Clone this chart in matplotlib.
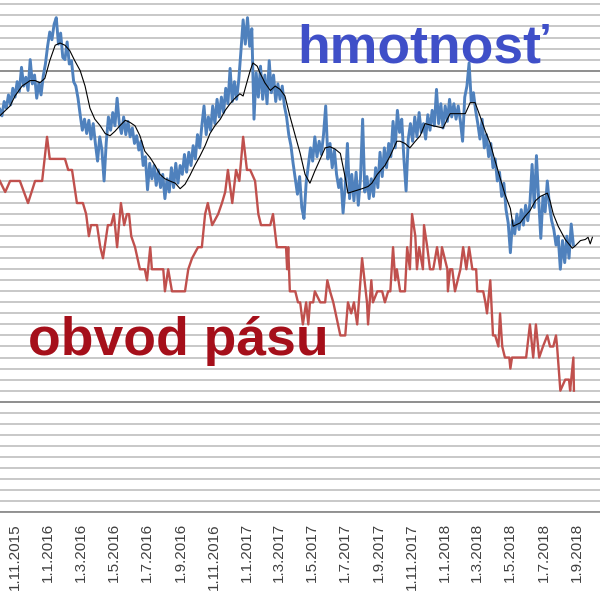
import pandas as pd
import matplotlib.pyplot as plt

# Začiatok merania (deň 0)
start = pd.Timestamp("2015-11-01")

# Hmotnosť - hodnoty každé 4 dni, od dňa -28
weight_first_day = -28
weight_step_days = 4
weight = [
    96.5, 95.9, 97.2, 96.6, 97.8, 96.9, 98.4, 97.6, 99.0, 98.1,
    100.3, 98.6, 99.4, 98.2, 101.0, 98.8, 99.6, 97.5, 98.9, 97.8,
    99.5, 100.6, 102.2, 103.5, 102.8, 104.2, 104.8, 102.4, 103.4, 101.2,
    101.0, 102.6, 100.6, 100.9, 99.0, 98.6, 97.5, 96.0, 94.6, 95.6,
    94.3, 95.5, 93.8, 95.2, 93.4, 91.8, 94.0, 92.8, 90.0, 93.5,
    95.8, 94.6, 96.2, 95.0, 97.5, 95.2, 94.3, 95.8, 94.2, 95.4,
    94.0, 94.8, 93.4, 94.1, 92.8, 93.6, 91.4, 92.2, 89.2, 91.6,
    90.2, 91.4, 89.6, 91.0, 89.4, 90.6, 88.4, 90.2, 89.0, 91.2,
    89.4, 91.6, 89.8, 91.4, 90.6, 92.4, 90.8, 92.6, 91.4, 93.2,
    92.0, 94.2, 93.0, 95.0, 96.8, 94.2, 95.8, 94.6, 96.8, 95.2,
    97.4, 95.8, 97.6, 96.2, 98.4, 97.0, 100.2, 97.2, 99.0, 97.4,
    99.2, 101.8, 104.6, 102.4, 104.8, 102.2, 103.8, 95.6, 99.8, 97.6,
    100.4, 97.4, 99.6, 97.0, 100.9, 98.0, 99.6, 97.2, 98.8, 97.4,
    98.6, 96.8, 95.8, 94.2, 93.2, 91.6, 90.2, 88.8, 90.4, 87.6,
    86.6, 89.8, 91.4, 93.0, 91.8, 94.0, 92.2, 93.6, 92.4, 94.2,
    96.8, 92.0, 93.4, 91.2, 92.8, 90.6, 89.4, 90.2, 87.1, 89.6,
    93.4, 88.4, 90.6, 88.2, 90.8, 87.8, 90.2, 95.6, 89.0, 90.4,
    88.4, 90.2, 88.6, 91.2, 89.4, 92.6, 90.4, 93.0, 91.2, 93.4,
    92.2, 95.4, 93.0, 96.4, 94.4, 95.6, 92.0, 89.1, 93.8, 95.2,
    93.6, 95.8, 94.0, 96.2, 94.4, 95.2, 93.8, 96.0, 94.6, 96.4,
    95.0, 98.3, 95.2, 97.0, 94.8, 96.8, 95.4, 97.4, 95.8, 97.0,
    95.6, 96.8, 95.4, 93.6, 97.6, 98.6, 100.7, 97.2, 98.0, 96.4,
    95.2, 93.8, 95.6, 93.0, 94.2, 92.2, 93.4, 91.2, 92.0, 90.0,
    90.8, 88.6, 89.8, 87.4, 86.2, 83.5, 86.4, 85.2, 87.0, 85.6,
    87.4, 86.0, 87.8, 86.4, 88.0, 91.5, 87.6, 92.3, 88.4, 84.8,
    88.6, 87.2, 90.0, 87.8, 86.4, 85.6, 84.2, 85.0, 82.0, 84.6,
    82.6, 85.0, 83.0, 86.1, 84.2,
]

# Kĺzavý priemer hmotnosti (deň, hodnota)
trend_days = [
    -28, -9, 0, 13, 28, 37, 46, 55, 64, 74, 83, 92, 101, 110, 120, 129,
    138, 147, 157, 166, 175, 184, 193, 203, 212, 221, 230, 239, 249, 258,
    267, 276, 285, 295, 304, 313, 322, 331, 341, 350, 359, 368, 378, 387,
    396, 405, 414, 420, 425, 433, 438, 446, 451, 460, 470, 479, 488, 497,
    506, 516, 525, 534, 543, 552, 562, 571, 580, 589, 599, 608, 613, 626,
    639, 650, 657, 667, 681, 691, 703, 709, 718, 727, 737, 746, 755, 770,
    788, 792, 801, 820, 829, 838, 847, 856, 866, 875, 884, 893, 902, 912,
    917, 930, 939, 948, 958, 967, 980, 985, 991, 1000, 1013, 1026, 1031,
    1041, 1050, 1055, 1059, 1063,
]
trend = [
    95.9, 96.8, 97.7, 98.6, 99.1, 99.1, 98.9, 99.3, 100.9, 102.3, 102.5,
    102.3, 101.8, 100.9, 100.0, 98.6, 96.6, 95.6, 95.0, 94.3, 94.1, 94.5,
    95.0, 95.5, 95.3, 95.0, 94.1, 92.7, 92.1, 91.4, 90.6, 90.2, 90.0, 89.8,
    89.3, 89.7, 90.5, 91.4, 92.3, 93.2, 94.3, 95.0, 95.6, 96.4, 97.0, 97.5,
    97.9, 97.7, 98.6, 100.0, 100.7, 100.4, 99.8, 98.9, 98.2, 98.6, 98.3,
    97.7, 95.9, 94.1, 92.5, 90.6, 89.8, 90.9, 92.0, 93.0, 93.1, 92.9, 92.5,
    90.3, 88.9, 89.1, 89.3, 89.5, 89.8, 90.6, 91.4, 92.3, 93.6, 93.6, 93.4,
    93.0, 93.6, 94.1, 95.2, 95.0, 94.8, 95.2, 96.1, 96.1, 96.1, 97.1, 97.1,
    95.9, 94.5, 93.4, 91.8, 90.3, 88.8, 87.5, 85.9, 86.2, 86.8, 87.3, 88.2,
    88.6, 88.9, 88.2, 87.0, 85.9, 84.7, 83.9, 84.1, 84.6, 84.7, 84.9, 84.3,
    84.9,
]

# Obvod pásu (deň, hodnota)
waist_days = [
    -28, -18, -9, 9, 24, 37, 50, 59, 64, 92, 98, 105, 114, 125, 131, 136,
    140, 151, 157, 162, 171, 177, 182, 188, 195, 201, 206, 210, 214, 221,
    230, 239, 243, 249, 252, 273, 276, 282, 289, 313, 319, 326, 337, 344,
    350, 355, 363, 374, 381, 387, 392, 400, 407, 413, 420, 427, 433, 442,
    448, 453, 460, 470, 475, 482, 495, 499, 501, 503, 506, 516, 521, 525,
    530, 536, 540, 543, 549, 552, 562, 571, 575, 580, 586, 599, 608, 613,
    619, 624, 630, 639, 648, 650, 656, 659, 667, 676, 681, 687, 691, 696,
    700, 703, 709, 718, 722, 727, 731, 737, 740, 744, 751, 753, 759, 764,
    770, 777, 783, 786, 796, 797, 801, 805, 810, 820, 825, 831, 836, 842,
    849, 851, 862, 866, 869, 875, 880, 884, 890, 893, 897, 902, 910, 912,
    915, 930, 941, 948, 954, 959, 965, 972, 980, 985, 991, 996, 998, 1004,
    1013, 1020, 1022, 1028, 1029,
]
waist = [
    90, 89, 90, 90, 88, 90, 90, 94, 92, 92, 91, 91, 88, 88, 87, 85,
    86, 86, 84, 83, 86, 86, 87, 84, 88, 86, 87, 87, 85, 84,
    82, 82, 81, 84, 82, 82, 80, 82, 80, 80, 82, 83, 84, 84,
    87, 88, 86, 87, 88, 89, 91, 88, 91, 90, 94, 91, 91, 90,
    87, 86, 86, 86, 87, 84, 84, 84, 82, 84, 80, 80, 79, 79,
    77, 79, 77, 79, 79, 80, 79, 79, 81, 80, 79, 76, 76, 79,
    78, 79, 77, 83, 79, 77, 81, 79, 80, 80, 79, 80, 80, 84,
    81, 82, 80, 80, 84, 82, 87, 85, 82, 84, 82, 86, 84, 82,
    82, 84, 82, 84, 82, 80, 82, 82, 80, 82, 84, 82, 84, 82,
    82, 80, 80, 79, 78, 81, 76, 76, 75, 78, 75, 74, 74, 73,
    74, 74, 74, 77, 74, 77, 74, 75, 76, 75, 75, 76, 75, 71,
    72, 72, 71, 74, 71,
]

# Popisky osi x - prvý deň každého druhého mesiaca
tick_dates = pd.date_range("2015-11-01", "2018-09-01", freq="2MS")
tick_labels = [f"{d.day}.{d.month}.{d.year}" for d in tick_dates]

weight_dates = pd.date_range(
    start + pd.Timedelta(days=weight_first_day),
    periods=len(weight),
    freq=f"{weight_step_days}D",
)
trend_dates = start + pd.to_timedelta(trend_days, unit="D")
waist_dates = start + pd.to_timedelta(waist_days, unit="D")

plt.rcParams["font.family"] = ["Liberation Sans", "DejaVu Sans"]

fig = plt.figure(figsize=(6, 5.99), dpi=100)
ax = fig.add_axes([0, 0.1452, 1, 0.8548])

# Mriežka - každá jednotka, dve tmavšie čiary
for y in range(60, 107):
    ax.axhline(y, color="#c4c4c4", linewidth=1.3, zorder=1)
for y in (70, 100):
    ax.axhline(y, color="#8c8c8c", linewidth=1.3, zorder=1)

ax.plot(waist_dates, waist, color="#c0504d", linewidth=1.7, zorder=3)
ax.plot(weight_dates, weight, color="#4f81bd", linewidth=2.1, zorder=4)
ax.plot(trend_dates, trend, color="black", linewidth=0.8, zorder=5)

ax.set_xlim(start - pd.Timedelta(days=27.6), start + pd.Timedelta(days=1077))
ax.set_ylim(60, 106.4)

ax.set_yticks([])
ax.set_xticks(tick_dates)
ax.set_xticklabels(tick_labels, rotation=90, fontsize=11, color="#404040")
ax.tick_params(axis="x", length=0, pad=8)

for side in ("left", "right", "top"):
    ax.spines[side].set_visible(False)
ax.spines["bottom"].set_color("#8c8c8c")
ax.spines["bottom"].set_linewidth(1.3)

# Nápisy
fig.text(0.495, 0.895, "hmotnosť", color="#3f4fc8", fontsize=38.5,
         fontweight="bold", ha="left", va="baseline", zorder=10)
fig.text(0.047, 0.407, "obvod pásu", color="#a50f1a", fontsize=38.5,
         fontweight="bold", ha="left", va="baseline", zorder=10)

fig.savefig("out.png", dpi=100)
